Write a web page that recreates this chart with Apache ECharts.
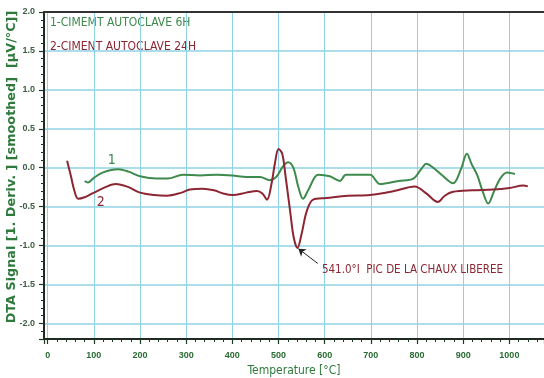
<!DOCTYPE html>
<html><head><meta charset="utf-8">
<script src="https://cdn.jsdelivr.net/npm/echarts@6/dist/echarts.min.js"></script>
<style>html,body{margin:0;padding:0;background:#fff}#c{width:544px;height:378px}</style>
</head><body><div id="c"></div>
<script>
// Curve 1 : CIMENT AUTOCLAVE 6H
const temp1 = [80,87,100,120,152,175,200,236,260,293,330,366,400,431,460,481,495,510,521,532,543,553,565,586,611,633,646,698,720,760,792,810,820,835,855,878,895,908,918,930,942,954,967,980,995,1012];
const dta1  = [-0.17,-0.19,-0.13,-0.06,-0.02,-0.05,-0.11,-0.14,-0.14,-0.09,-0.10,-0.09,-0.10,-0.12,-0.12,-0.16,-0.12,0.02,0.07,0.00,-0.25,-0.40,-0.28,-0.09,-0.11,-0.17,-0.09,-0.09,-0.21,-0.17,-0.14,-0.01,0.05,0.00,-0.10,-0.20,-0.02,0.18,0.05,-0.09,-0.30,-0.46,-0.30,-0.14,-0.06,-0.08];
// Curve 2 : CIMENT AUTOCLAVE 24H
const temp2 = [42,50,58,66,80,97,125,148,175,200,230,258,290,308,336,360,380,401,430,453,465,475,485,492,500,508,515,525,533,541,550,561,575,604,650,698,750,795,820,845,860,878,920,965,1000,1030,1040];
const dta2  = [0.09,-0.10,-0.30,-0.40,-0.38,-0.33,-0.25,-0.21,-0.25,-0.32,-0.35,-0.36,-0.32,-0.28,-0.27,-0.29,-0.33,-0.35,-0.32,-0.30,-0.33,-0.41,-0.20,0.05,0.24,0.18,-0.10,-0.55,-0.90,-1.03,-0.85,-0.56,-0.41,-0.39,-0.36,-0.35,-0.30,-0.24,-0.33,-0.44,-0.36,-0.31,-0.29,-0.28,-0.26,-0.23,-0.24];
const seriesNames = ['1-CIMEMT AUTOCLAVE 6H', '2-CIMENT AUTOCLAVE 24H'];
const xTitle = 'Temperature [°C]';
const yTitle = 'DTA Signal [1. Deriv. ] [smoothed]  [µV/°C]]';
const peakT = 541.0;
const peakV = -1.03;
const peakText = '541.0°I  PIC DE LA CHAUX LIBEREE';

const GREEN = '#3d8a4c', RED = '#8c2633', GRID = '#8fd2e3';
const NARROW = "'Liberation Sans Narrow','DejaVu Sans Condensed','Arial Narrow',sans-serif";

const chart = echarts.init(document.getElementById('c'), null, {renderer: 'canvas'});
chart.setOption({
  animation: false,
  backgroundColor: '#ffffff',
  grid: {left: 44, right: 0, top: 12, bottom: 39, outerBoundsMode: 'none', containLabel: false},
  graphic: [
    {type: 'text', left: 50, top: 17, style: {text: seriesNames[0], fill: GREEN, font: "12px " + NARROW}},
    {type: 'text', left: 50, top: 41, style: {text: seriesNames[1], fill: RED, font: "12px " + NARROW}},
    {type: 'text', x: 12, y: 167, rotation: Math.PI / 2,
      style: {text: yTitle, fill: '#2e7a3c', font: "bold 12.8px 'DejaVu Sans'", align: 'center', verticalAlign: 'middle'}}
  ],
  xAxis: [{
    type: 'value', min: -8, max: 1075, splitNumber: 10,
    name: xTitle, nameLocation: 'middle', nameGap: 23,
    nameTextStyle: {color: '#2e7a3c', fontSize: 12, fontFamily: NARROW},
    axisLine: {show: true, onZero: false, lineStyle: {color: '#1e2a22', width: 2}},
    axisTick: {show: true, length: 5, lineStyle: {color: '#1e3a26', width: 1.2}},
    minorTick: {show: true, splitNumber: 5, length: 3, lineStyle: {color: '#1e3a26'}},
    axisLabel: {showMinLabel: false, showMaxLabel: false, margin: 12, color: '#2a6b34', fontSize: 9, fontWeight: 'bold', fontFamily: 'Liberation Sans',
      formatter: v => String(v)},
    splitLine: {show: true, lineStyle: {color: GRID, width: 1}}
  }, {
    type: 'value', position: 'top', min: -8, max: 1075,
    axisLine: {show: true, onZero: false, lineStyle: {color: '#333', width: 2}},
    axisTick: {show: false}, axisLabel: {show: false}, splitLine: {show: false}
  }],
  yAxis: {
    type: 'value', min: -2.2, max: 2.0, splitNumber: 8,
    axisLine: {show: true, onZero: false, lineStyle: {color: '#1e2a22', width: 2}},
    axisTick: {show: true, length: 5, lineStyle: {color: '#1e3a26', width: 1.2}},
    minorTick: {show: true, splitNumber: 5, length: 3, lineStyle: {color: '#1e3a26'}},
    axisLabel: {showMinLabel: false, margin: 9, color: '#3f5e45', fontSize: 9, fontWeight: 'bold', fontFamily: 'Liberation Sans',
      formatter: v => v.toFixed(1)},
    splitLine: {show: true, lineStyle: {color: GRID, width: 1.5}}
  },
  series: [{
    name: seriesNames[0], type: 'line', showSymbol: false, smooth: 0.35,
    data: temp1.map((t, i) => [t, dta1[i]]),
    lineStyle: {color: GREEN, width: 2}, itemStyle: {color: GREEN},
    markPoint: {symbol: 'circle', symbolSize: 0, silent: true,
      data: [{coord: [139, 0.10], label: {show: true, position: 'inside', formatter: '1', color: GREEN, fontSize: 14, fontFamily: NARROW}}]}
  }, {
    name: seriesNames[1], type: 'line', showSymbol: false, smooth: 0.35,
    data: temp2.map((t, i) => [t, dta2[i]]),
    lineStyle: {color: RED, width: 2}, itemStyle: {color: RED},
    markPoint: {symbol: 'circle', symbolSize: 0, silent: true,
      data: [
        {coord: [115, -0.45], label: {show: true, position: 'inside', formatter: '2', color: RED, fontSize: 14, fontFamily: NARROW}},
        {coord: [594, -1.31], label: {show: true, position: 'right', distance: 0, formatter: peakText, color: RED, fontSize: 11.5, fontFamily: NARROW}}
      ]},
    markLine: {silent: true, symbol: ['none', 'arrow'], symbolSize: 7,
      label: {show: false},
      lineStyle: {color: '#222', width: 1, type: 'solid'},
      data: [[{coord: [585, -1.23]}, {coord: [peakT + 2, peakV - 0.01]}]]}
  }]
});
</script></body></html>
